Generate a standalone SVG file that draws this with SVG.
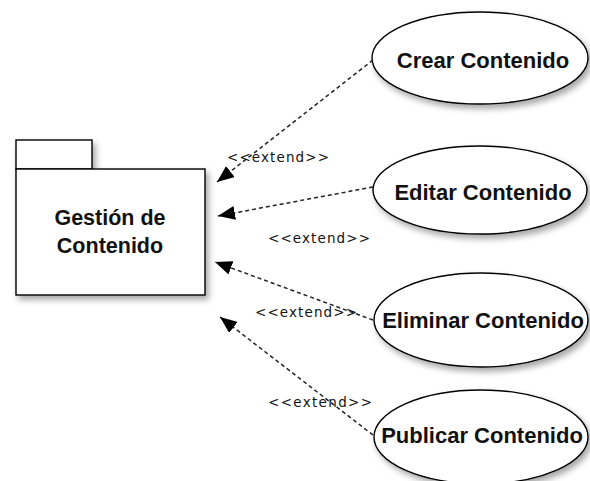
<svg xmlns="http://www.w3.org/2000/svg" width="590" height="481" viewBox="0 0 590 481">
<style>
.shape{fill:#fff;stroke:#000;stroke-width:1.4;filter:url(#sh)}
.name{font-family:"Liberation Sans",Arial,sans-serif;font-weight:bold;font-size:22px;fill:#111;text-anchor:middle}
.conn{fill:none;stroke:#222;stroke-width:1.5;stroke-dasharray:4 3}
.lbl{font-family:"DejaVu Sans",Verdana,sans-serif;font-size:13.5px;fill:#111}
</style>
<defs>
<filter id="sh" x="-20%" y="-20%" width="140%" height="150%">
<feDropShadow dx="3" dy="4" stdDeviation="3" flood-color="#000" flood-opacity="0.35"/>
</filter>
<marker id="arr" viewBox="0 0 17 14" refX="17" refY="7" markerWidth="17" markerHeight="14" markerUnits="userSpaceOnUse" orient="auto">
<path d="M0,0 L17,7 L0,14 Z" fill="#000"/>
</marker>
</defs>
<rect width="590" height="481" fill="#fff"/>
<g id="pkg">
<rect class="shape" x="16" y="140" width="76" height="29"/>
<rect class="shape" x="16" y="169" width="189" height="126"/>
<text class="name" x="110" y="225" style="font-size:21.5px">Gestión de</text>
<text class="name" x="110" y="253" style="font-size:21.5px">Contenido</text>
</g>
<g id="uc1">
<ellipse class="shape" cx="480" cy="58" rx="108" ry="46"/>
<text class="name" x="483" y="68">Crear Contenido</text>
</g>
<g id="uc2">
<ellipse class="shape" cx="480" cy="190" rx="107" ry="44"/>
<text class="name" x="483" y="200">Editar Contenido</text>
</g>
<g id="uc3">
<ellipse class="shape" cx="481" cy="320" rx="107" ry="47"/>
<text class="name" x="483" y="328">Eliminar Contenido</text>
</g>
<g id="uc4">
<ellipse class="shape" cx="481" cy="437" rx="107" ry="47"/>
<text class="name" x="482" y="443">Publicar Contenido</text>
</g>
<g id="connectors">
<line class="conn" x1="373" y1="60" x2="217" y2="182" marker-end="url(#arr)"/>
<line class="conn" x1="373" y1="187" x2="218" y2="216" marker-end="url(#arr)"/>
<line class="conn" x1="373" y1="320" x2="215" y2="262" marker-end="url(#arr)"/>
<line class="conn" x1="373" y1="435" x2="220" y2="317" marker-end="url(#arr)"/>
<text class="lbl" x="227" y="162" textLength="102">&lt;&lt;extend&gt;&gt;</text>
<text class="lbl" x="268" y="243" textLength="102">&lt;&lt;extend&gt;&gt;</text>
<text class="lbl" x="255" y="317" textLength="102">&lt;&lt;extend&gt;&gt;</text>
<text class="lbl" x="268" y="407" textLength="104">&lt;&lt;extend&gt;&gt;</text>
</g>
</svg>
